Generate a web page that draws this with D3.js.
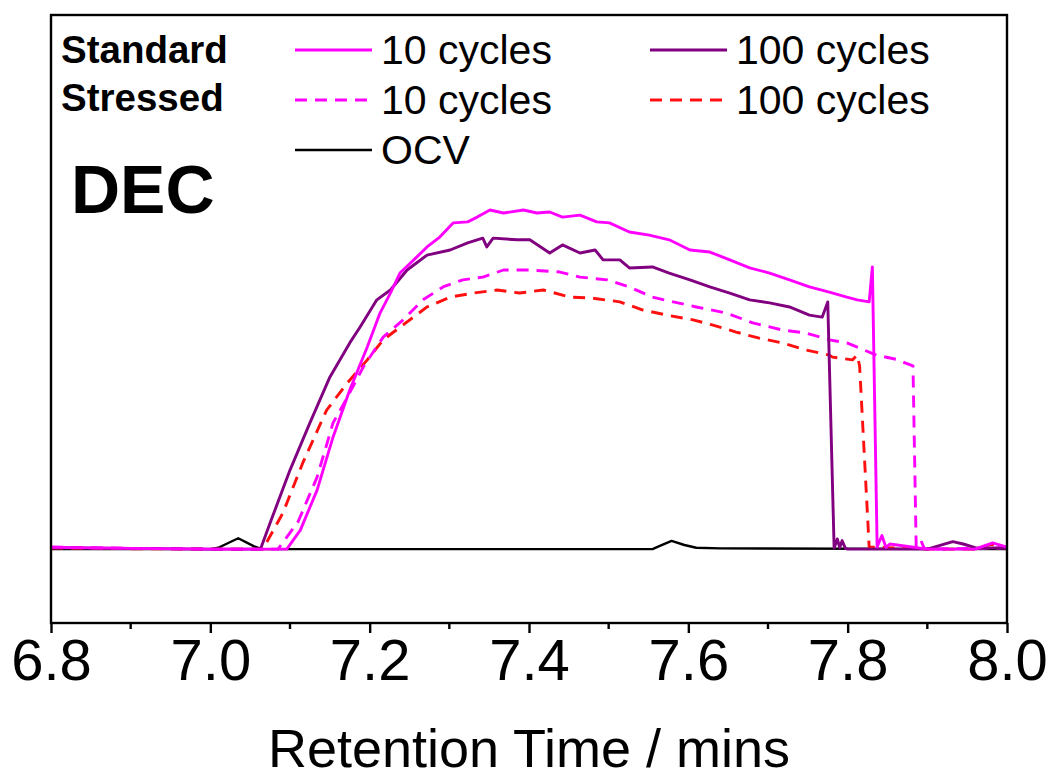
<!DOCTYPE html>
<meta charset="utf-8">
<style>
  body { margin: 0; background: #fff; }
  text { font-family: "Liberation Sans", Arial, sans-serif; fill: #000; }
  .trace { fill: none; stroke-linejoin: round; stroke-linecap: butt; }
</style>

<body>
  <script src="https://cdn.jsdelivr.net/npm/d3@7"></script>
  <script>

    // retention time (mins) and signal (arbitrary units, baseline = 0)
    var std10x = [6.80, 6.90, 7.00, 7.08, 7.096, 7.113, 7.134, 7.154, 7.175, 7.197, 7.213, 7.226, 7.238, 7.259, 7.272, 7.288, 7.305, 7.323, 7.335, 7.351, 7.368, 7.393, 7.410, 7.426, 7.442, 7.464, 7.485, 7.501, 7.526, 7.551, 7.576, 7.602, 7.627, 7.652, 7.677, 7.702, 7.727, 7.752, 7.777, 7.799, 7.812, 7.827, 7.831, 7.837, 7.843, 7.848, 7.853, 7.90, 7.96, 7.982, 8.00];
    var std10y = [0.005, 0.002, 0.0, 0.0, 0.0, 0.056, 0.174, 0.330, 0.469, 0.596, 0.696, 0.755, 0.814, 0.861, 0.891, 0.920, 0.962, 0.965, 0.979, 1.000, 0.991, 1.000, 0.991, 0.994, 0.979, 0.985, 0.965, 0.962, 0.935, 0.926, 0.912, 0.882, 0.876, 0.853, 0.829, 0.814, 0.794, 0.773, 0.758, 0.743, 0.735, 0.729, 0.832, 0.006, 0.04, 0.005, 0.015, 0.0, 0.0, 0.018, 0.006];

    var std100x = [6.80, 6.90, 7.00, 7.063, 7.075, 7.100, 7.125, 7.150, 7.175, 7.188, 7.209, 7.226, 7.247, 7.272, 7.301, 7.323, 7.342, 7.347, 7.355, 7.385, 7.401, 7.426, 7.442, 7.464, 7.483, 7.493, 7.514, 7.526, 7.555, 7.576, 7.602, 7.627, 7.652, 7.677, 7.702, 7.727, 7.752, 7.768, 7.775, 7.783, 7.787, 7.790, 7.793, 7.797, 7.80, 7.90, 7.932, 7.945, 7.96, 8.00];
    var std100y = [0.004, 0.002, 0.0, 0.0, 0.077, 0.233, 0.372, 0.507, 0.608, 0.655, 0.735, 0.764, 0.823, 0.867, 0.882, 0.903, 0.917, 0.891, 0.917, 0.912, 0.912, 0.873, 0.897, 0.873, 0.882, 0.853, 0.853, 0.829, 0.832, 0.814, 0.794, 0.773, 0.755, 0.735, 0.726, 0.714, 0.690, 0.684, 0.729, 0.003, 0.03, 0.004, 0.025, 0.003, 0.0, 0.0, 0.022, 0.015, 0.004, 0.003];

    var str10x = [6.80, 6.90, 7.00, 7.085, 7.110, 7.134, 7.154, 7.172, 7.192, 7.217, 7.242, 7.267, 7.292, 7.317, 7.342, 7.368, 7.401, 7.439, 7.464, 7.498, 7.526, 7.555, 7.581, 7.610, 7.648, 7.681, 7.718, 7.748, 7.777, 7.799, 7.836, 7.864, 7.872, 7.882, 7.886, 7.892, 7.896, 7.90, 7.96, 8.00];
    var str10y = [0.006, 0.002, 0.0, 0.0, 0.08, 0.212, 0.372, 0.448, 0.537, 0.625, 0.676, 0.735, 0.773, 0.794, 0.802, 0.823, 0.823, 0.817, 0.802, 0.794, 0.773, 0.743, 0.729, 0.714, 0.696, 0.667, 0.646, 0.637, 0.617, 0.608, 0.572, 0.558, 0.549, 0.540, 0.006, 0.025, 0.003, 0.0, 0.002, 0.004];

    var str100x = [6.80, 6.90, 7.00, 7.066, 7.091, 7.116, 7.146, 7.172, 7.197, 7.217, 7.247, 7.272, 7.301, 7.330, 7.360, 7.388, 7.418, 7.452, 7.480, 7.514, 7.543, 7.573, 7.606, 7.630, 7.660, 7.689, 7.718, 7.748, 7.777, 7.781, 7.806, 7.812, 7.815, 7.827, 7.90, 7.96, 7.980, 8.00];
    var str100y = [0.003, 0.001, 0.0, 0.0, 0.106, 0.254, 0.410, 0.490, 0.558, 0.617, 0.670, 0.714, 0.743, 0.755, 0.764, 0.755, 0.764, 0.743, 0.740, 0.729, 0.705, 0.690, 0.676, 0.661, 0.640, 0.622, 0.608, 0.587, 0.572, 0.566, 0.558, 0.572, 0.540, 0.006, 0.0, 0.0, 0.014, 0.004];

    var ocvx = [6.80, 7.00, 7.010, 7.035, 7.055, 7.065, 7.40, 7.555, 7.565, 7.579, 7.595, 7.610, 7.640, 8.00];
    var ocvy = [0.0, 0.0, 0.004, 0.032, 0.008, 0.0, 0.0, 0.0, 0.010, 0.024, 0.012, 0.004, 0.002, 0.0];

    var xTicks = [6.8, 7.0, 7.2, 7.4, 7.6, 7.8, 8.0];
    var xMinorTicks = [6.9, 7.1, 7.3, 7.5, 7.7, 7.9];

    var series = [
      { name: "Std 10", xs: std10x, ys: std10y, color: "#ff00ff", dash: null },
      { name: "Std 100", xs: std100x, ys: std100y, color: "#800080", dash: null },
      { name: "Str 10", xs: str10x, ys: str10y, color: "#ff00ff", dash: "12,8" },
      { name: "Str 100", xs: str100x, ys: str100y, color: "#ff1010", dash: "12,8" },
      { name: "OCV", xs: ocvx, ys: ocvy, color: "#000000", dash: null }
    ];

    var W = 1051, H = 783;
    var margin = { top: 15, right: 44, bottom: 160, left: 51 },
      width = W - margin.left - margin.right,
      height = H - margin.top - margin.bottom;

    var x = d3.scaleLinear().domain([6.8, 8.0]).range([0, width]);
    var y = d3.scaleLinear().domain([-0.218, 1.575]).range([height, 0]);

    var svg = d3.select("body").append("svg")
      .attr("width", W)
      .attr("height", H)
      .append("g")
      .attr("transform", "translate(" + margin.left + "," + margin.top + ")");

    var line = d3.line()
      .x(function (d) { return x(d[0]); })
      .y(function (d) { return y(d[1]); });

    // draw order: OCV under, then the others
    var order = [4, 3, 2, 1, 0];
    order.forEach(function (i) {
      var s = series[i];
      svg.append("path")
        .attr("class", "trace")
        .datum(d3.zip(s.xs, s.ys))
        .attr("d", line)
        .attr("stroke", s.color)
        .attr("stroke-width", i === 4 ? 2.4 : 2.9)
        .attr("stroke-dasharray", s.dash);
    });

    // frame
    svg.append("rect")
      .attr("width", width)
      .attr("height", height)
      .attr("fill", "none")
      .attr("stroke", "#000")
      .attr("stroke-width", 2.4);

    // bottom axis
    var xAxis = d3.axisBottom(x)
      .tickValues(xTicks)
      .tickSize(10)
      .tickPadding(6)
      .tickFormat(d3.format(".1f"));

    var ax = svg.append("g")
      .attr("transform", "translate(0," + height + ")")
      .call(xAxis);
    ax.select(".domain").remove();
    ax.selectAll(".tick line").attr("stroke-width", 2.4);
    ax.selectAll(".tick text")
      .style("font-size", "58px")
      .attr("dy", "0.71em");

    svg.append("g")
      .attr("transform", "translate(0," + height + ")")
      .selectAll("line")
      .data(xMinorTicks)
      .enter().append("line")
      .attr("x1", x).attr("x2", x)
      .attr("y1", 0).attr("y2", 6)
      .attr("stroke", "#000")
      .attr("stroke-width", 2.4);

    svg.append("text")
      .attr("x", width / 2)
      .attr("y", 752)
      .attr("text-anchor", "middle")
      .style("font-size", "54px")
      .text("Retention Time / mins");

    // legend
    var lg = svg.append("g");
    lg.append("text").attr("x", 10).attr("y", 48)
      .style("font-size", "38.5px").style("font-weight", "bold").text("Standard");
    lg.append("text").attr("x", 10).attr("y", 96)
      .style("font-size", "38.5px").style("font-weight", "bold").text("Stressed");
    lg.append("text").attr("x", 20).attr("y", 198)
      .style("font-size", "68px").style("font-weight", "bold").text("DEC");

    var keys = [
      { s: 0, lx: 244, ly: 35, label: "10 cycles" },
      { s: 1, lx: 599, ly: 35, label: "100 cycles" },
      { s: 2, lx: 244, ly: 85, label: "10 cycles" },
      { s: 3, lx: 599, ly: 85, label: "100 cycles" },
      { s: 4, lx: 244, ly: 135, label: "OCV" }
    ];
    keys.forEach(function (k) {
      var s = series[k.s];
      lg.append("line")
        .attr("x1", k.lx).attr("x2", k.lx + 77)
        .attr("y1", k.ly).attr("y2", k.ly)
        .attr("stroke", s.color)
        .attr("stroke-width", k.s === 4 ? 2.4 : 2.9)
        .attr("stroke-dasharray", s.dash);
      lg.append("text")
        .attr("x", k.lx + 86)
        .attr("y", k.ly + 14)
        .style("font-size", "41px")
        .text(k.label);
    });

  </script>
</body>

</html>
